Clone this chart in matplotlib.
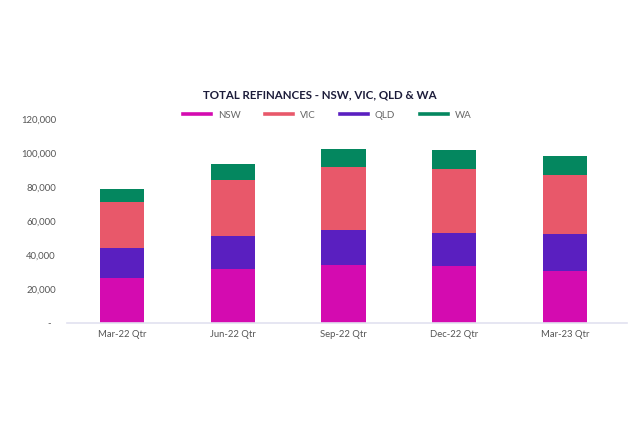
import matplotlib
matplotlib.use('Agg')
import matplotlib.pyplot as plt
import numpy as np
from matplotlib.ticker import FuncFormatter

plt.rcParams['font.family'] = ['Lato', 'DejaVu Sans']

# data
quarters = ['Mar-22 Qtr', 'Jun-22 Qtr', 'Sep-22 Qtr', 'Dec-22 Qtr', 'Mar-23 Qtr']
nsw = [26550, 31500, 33900, 33300, 30700]
qld = [17500, 19500, 20800, 19600, 21500]
vic = [27000, 33400, 37000, 37600, 35150]
wa = [7850, 9250, 10600, 11400, 11050]

series = [('NSW', nsw, '#d40bb0'), ('VIC', vic, '#e8586a'),
          ('QLD', qld, '#5a1fc0'), ('WA', wa, '#04875f')]
# stacking order bottom -> top
stack = [('NSW', nsw), ('QLD', qld), ('VIC', vic), ('WA', wa)]
colors = {name: c for name, _, c in series}

fig = plt.figure(figsize=(6.4, 4.32), dpi=100)
ax = fig.add_axes([0.1047, 0.253, 0.875, 0.4708])

x = np.arange(len(quarters))
bottom = np.zeros(len(quarters))
for name, vals in stack:
    ax.bar(x, vals, 0.4, bottom=bottom, color=colors[name], label=name, zorder=2)
    bottom += np.array(vals)

ax.set_xlim(-0.497, 4.56)
ax.set_ylim(0, 120000)
ax.set_yticks(np.arange(0, 120001, 20000))
ax.yaxis.set_major_formatter(FuncFormatter(lambda v, p: '-  ' if v == 0 else f'{v:,.0f}'))
ax.set_xticks(x)
ax.set_xticklabels(quarters)

for s in ['top', 'right', 'left']:
    ax.spines[s].set_visible(False)
ax.spines['bottom'].set_color('#e2e2f0')
ax.spines['bottom'].set_linewidth(1.2)
ax.tick_params(axis='both', length=0, labelsize=6.8, labelcolor='#555555')
ax.tick_params(axis='y', pad=8)
ax.tick_params(axis='x', pad=5)

fig.text(0.5, 1 - 94.7 / 432, 'TOTAL REFINANCES - NSW, VIC, QLD & WA', ha='center', va='center',
         fontsize=8.3, fontweight='bold', color='#1c1c3a')

handles = [plt.Line2D([0], [0], color=c, lw=2.6) for _, _, c in series]
labels = [n for n, _, _ in series]
leg = fig.legend(handles, labels, loc='center', bbox_to_anchor=(327 / 640, 1 - 115 / 432), ncol=4,
                 frameon=False, fontsize=7, handlelength=2.9, handletextpad=0.7, columnspacing=2.5)
for t in leg.get_texts():
    t.set_color('#666666')

fig.savefig('out.png', dpi=100, facecolor='white')
